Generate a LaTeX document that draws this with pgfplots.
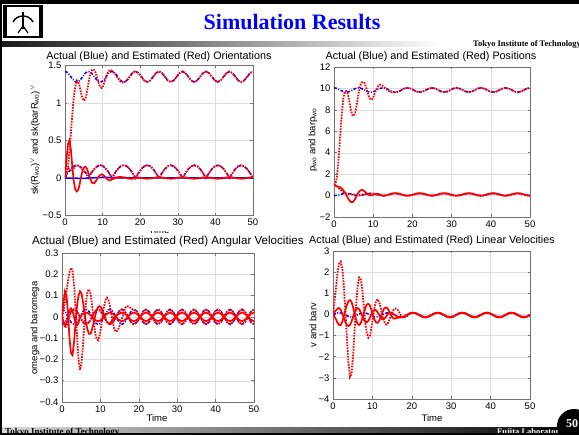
\documentclass[border=0pt]{standalone}
\usepackage{fontspec}
\setmainfont{Liberation Sans}
\newfontfamily\tserif{Liberation Serif}
\usepackage{pgfplots}
\usepackage{pgfplotstable}
\pgfplotsset{compat=1.18}

\pgfplotstableread{
t bu ru bl rl rs
0.00 1.42 0.00 0 0.00 0.00
0.39 1.415 0.05 0.033 0.08 0.25
0.78 1.40 0.15 0.065 0.14 0.45
1.17 1.377 0.35 0.095 0.12 0.50
1.56 1.35 0.60 0.12 0.09 0.38
1.95 1.323 0.85 0.141 0.10 0.15
2.34 1.30 1.08 0.157 0.13 -0.05
2.73 1.285 1.22 0.167 0.16 -0.15
3.13 1.28 1.30 0.17 0.17 -0.18
3.52 1.285 1.28 0.167 0.165 -0.16
3.91 1.30 1.22 0.157 0.15 -0.08
4.30 1.323 1.13 0.141 0.13 0.02
4.69 1.35 1.06 0.12 0.11 0.10
5.08 1.377 1.03 0.095 0.09 0.14
5.47 1.40 1.06 0.065 0.07 0.15
5.86 1.415 1.15 0.033 0.05 0.12
6.25 1.42 1.27 0 0.04 0.06
6.64 1.415 1.37 0.033 0.05 0.00
7.03 1.40 1.43 0.065 0.07 -0.05
7.42 1.377 1.45 0.095 0.10 -0.07
7.81 1.35 1.44 0.12 0.12 -0.07
8.20 1.323 1.40 0.141 0.14 -0.04
8.59 1.30 1.33 0.157 0.155 -0.01
8.98 1.285 1.26 0.167 0.165 0.02
9.38 1.28 1.21 0.17 0.17 0.04
9.77 1.285 1.20 0.167 0.167 0.05
10.16 1.30 1.23 0.157 0.157 0.04
10.55 1.323 1.29 0.141 0.141 0.02
10.94 1.35 1.35 0.12 0.12 0.00
11.33 1.377 1.40 0.095 0.095 -0.02
11.72 1.40 1.43 0.065 0.065 -0.03
12.11 1.415 1.44 0.033 0.033 -0.03
12.50 1.42 1.43 0 0 -0.02
12.89 1.415 1.41 0.033 0.033 -0.01
13.28 1.40 1.39 0.065 0.065 0.00
13.67 1.377 1.36 0.095 0.095 0.01
14.06 1.35 1.33 0.12 0.12 0.01
14.45 1.323 1.30 0.141 0.141 0.015
14.84 1.30 1.285 0.157 0.157 0.015
15.23 1.285 1.275 0.167 0.167 0.01
15.63 1.28 1.275 0.17 0.17 0.01
16.02 1.285 1.285 0.167 0.167 0.005
16.41 1.30 1.30 0.157 0.157 0.00
16.80 1.323 1.323 0.141 0.141 -0.005
17.19 1.35 1.35 0.12 0.12 -0.01
17.58 1.377 1.377 0.095 0.095 -0.01
17.97 1.40 1.40 0.065 0.065 -0.01
18.36 1.415 1.415 0.033 0.033 -0.005
18.75 1.42 1.42 0 0 0.00
19.53 1.40 1.40 0.065 0.065 0.007
20.31 1.35 1.35 0.12 0.12 0.00
21.09 1.30 1.30 0.157 0.157 -0.007
21.88 1.28 1.28 0.17 0.17 -0.01
22.66 1.30 1.30 0.157 0.157 -0.007
23.44 1.35 1.35 0.12 0.12 0.00
24.22 1.40 1.40 0.065 0.065 0.007
25.00 1.42 1.42 0 0 0.01
25.78 1.40 1.40 0.065 0.065 0.007
26.56 1.35 1.35 0.12 0.12 0.00
27.34 1.30 1.30 0.157 0.157 -0.007
28.13 1.28 1.28 0.17 0.17 -0.01
28.91 1.30 1.30 0.157 0.157 -0.007
29.69 1.35 1.35 0.12 0.12 0.00
30.47 1.40 1.40 0.065 0.065 0.007
31.25 1.42 1.42 0 0 0.01
32.03 1.40 1.40 0.065 0.065 0.007
32.81 1.35 1.35 0.12 0.12 0.00
33.59 1.30 1.30 0.157 0.157 -0.007
34.38 1.28 1.28 0.17 0.17 -0.01
35.16 1.30 1.30 0.157 0.157 -0.007
35.94 1.35 1.35 0.12 0.12 0.00
36.72 1.40 1.40 0.065 0.065 0.007
37.50 1.42 1.42 0 0 0.01
38.28 1.40 1.40 0.065 0.065 0.007
39.06 1.35 1.35 0.12 0.12 0.00
39.84 1.30 1.30 0.157 0.157 -0.007
40.63 1.28 1.28 0.17 0.17 -0.01
41.41 1.30 1.30 0.157 0.157 -0.007
42.19 1.35 1.35 0.12 0.12 0.00
42.97 1.40 1.40 0.065 0.065 0.007
43.75 1.42 1.42 0 0 0.01
44.53 1.40 1.40 0.065 0.065 0.007
45.31 1.35 1.35 0.12 0.12 0.00
46.09 1.30 1.30 0.157 0.157 -0.007
46.88 1.28 1.28 0.17 0.17 -0.01
47.66 1.30 1.30 0.157 0.157 -0.007
48.44 1.35 1.35 0.12 0.12 0.00
49.22 1.40 1.40 0.065 0.065 0.007
50.00 1.42 1.42 0 0 0.01
}\tabA

\pgfplotstableread{
t bu ru bl rl rs
0.00 10.05 1.0 0 1.0 1.0
0.39 10.035 1.1 0.008 0.95 0.92
0.78 9.99 1.8 0.029 0.85 0.86
1.17 9.927 3.5 0.062 0.72 0.82
1.56 9.85 5.5 0.1 0.58 0.77
1.95 9.773 7.5 0.138 0.45 0.68
2.34 9.71 9.0 0.171 0.33 0.52
2.73 9.665 9.7 0.192 0.24 0.30
3.13 9.65 9.75 0.2 0.18 0.05
3.52 9.665 9.5 0.192 0.15 -0.2
3.91 9.71 8.8 0.171 0.14 -0.45
4.30 9.773 8.0 0.138 0.13 -0.6
4.69 9.85 7.5 0.1 0.12 -0.62
5.08 9.927 7.45 0.062 0.10 -0.5
5.47 9.99 7.8 0.029 0.08 -0.25
5.86 10.035 8.6 0.008 0.06 0.05
6.25 10.05 9.5 0 0.05 0.3
6.64 10.035 10.2 0.008 0.06 0.45
7.03 9.99 10.55 0.029 0.08 0.52
7.42 9.927 10.6 0.062 0.10 0.5
7.81 9.85 10.5 0.1 0.12 0.4
8.20 9.773 10.1 0.138 0.14 0.25
8.59 9.71 9.6 0.171 0.17 0.12
8.98 9.665 9.15 0.192 0.19 0.04
9.38 9.65 8.95 0.2 0.2 0.02
9.77 9.665 9.0 0.192 0.192 0.05
10.16 9.71 9.3 0.171 0.171 0.1
10.55 9.773 9.7 0.138 0.138 0.15
10.94 9.85 10.05 0.1 0.1 0.17
11.33 9.927 10.25 0.062 0.062 0.15
11.72 9.99 10.35 0.029 0.029 0.1
12.11 10.035 10.3 0.008 0.008 0.04
12.50 10.05 10.2 0 0 -0.01
12.89 10.035 10.08 0.008 0.008 -0.02
13.28 9.99 9.96 0.029 0.029 0.01
13.67 9.927 9.85 0.062 0.062 0.05
14.06 9.85 9.74 0.1 0.1 0.1
14.45 9.773 9.66 0.138 0.138 0.146
14.84 9.71 9.62 0.171 0.171 0.185
15.23 9.665 9.62 0.192 0.192 0.211
15.63 9.65 9.63 0.2 0.2 0.22
16.02 9.665 9.665 0.192 0.192 0.211
16.41 9.71 9.71 0.171 0.171 0.185
16.80 9.773 9.773 0.138 0.138 0.146
17.19 9.85 9.85 0.1 0.1 0.1
17.58 9.927 9.927 0.062 0.062 0.054
17.97 9.99 9.99 0.029 0.029 0.015
18.36 10.035 10.035 0.008 0.008 -0.011
18.75 10.05 10.05 0 0 -0.02
19.53 9.99 9.99 0.029 0.029 0.015
20.31 9.85 9.85 0.1 0.1 0.1
21.09 9.71 9.71 0.171 0.171 0.185
21.88 9.65 9.65 0.2 0.2 0.22
22.66 9.71 9.71 0.171 0.171 0.185
23.44 9.85 9.85 0.1 0.1 0.1
24.22 9.99 9.99 0.029 0.029 0.015
25.00 10.05 10.05 0 0 -0.02
25.78 9.99 9.99 0.029 0.029 0.015
26.56 9.85 9.85 0.1 0.1 0.1
27.34 9.71 9.71 0.171 0.171 0.185
28.13 9.65 9.65 0.2 0.2 0.22
28.91 9.71 9.71 0.171 0.171 0.185
29.69 9.85 9.85 0.1 0.1 0.1
30.47 9.99 9.99 0.029 0.029 0.015
31.25 10.05 10.05 0 0 -0.02
32.03 9.99 9.99 0.029 0.029 0.015
32.81 9.85 9.85 0.1 0.1 0.1
33.59 9.71 9.71 0.171 0.171 0.185
34.38 9.65 9.65 0.2 0.2 0.22
35.16 9.71 9.71 0.171 0.171 0.185
35.94 9.85 9.85 0.1 0.1 0.1
36.72 9.99 9.99 0.029 0.029 0.015
37.50 10.05 10.05 0 0 -0.02
38.28 9.99 9.99 0.029 0.029 0.015
39.06 9.85 9.85 0.1 0.1 0.1
39.84 9.71 9.71 0.171 0.171 0.185
40.63 9.65 9.65 0.2 0.2 0.22
41.41 9.71 9.71 0.171 0.171 0.185
42.19 9.85 9.85 0.1 0.1 0.1
42.97 9.99 9.99 0.029 0.029 0.015
43.75 10.05 10.05 0 0 -0.02
44.53 9.99 9.99 0.029 0.029 0.015
45.31 9.85 9.85 0.1 0.1 0.1
46.09 9.71 9.71 0.171 0.171 0.185
46.88 9.65 9.65 0.2 0.2 0.22
47.66 9.71 9.71 0.171 0.171 0.185
48.44 9.85 9.85 0.1 0.1 0.1
49.22 9.99 9.99 0.029 0.029 0.015
50.00 10.05 10.05 0 0 -0.02
}\tabB

\pgfplotstableread{
t b1 b2 rd1 rd2 rs1 rs2
0.00 0.035 -0.035 0 0 0 0
0.39 0.032 -0.032 0.03 -0.03 0.07 -0.02
0.78 0.025 -0.025 0.07 -0.05 0.12 -0.04
1.17 0.013 -0.013 0.12 -0.045 0.10 -0.03
1.56 0 0 0.17 -0.02 0.02 0
1.95 -0.013 0.013 0.21 0 -0.10 0.03
2.34 -0.025 0.025 0.23 0.02 -0.17 0.04
2.73 -0.032 0.032 0.22 0.03 -0.18 0.03
3.13 -0.035 0.035 0.15 0.035 -0.12 0
3.52 -0.032 0.032 0.04 0.032 -0.03 -0.03
3.91 -0.025 0.025 -0.09 0.025 0.05 -0.04
4.30 -0.013 0.013 -0.20 0.013 0.10 -0.03
4.69 0 0 -0.25 0 0.12 0
5.08 0.013 -0.013 -0.22 -0.013 0.11 0.008
5.47 0.025 -0.025 -0.13 -0.025 0.07 0.014
5.86 0.032 -0.032 -0.02 -0.032 0.02 0.018
6.25 0.035 -0.035 0.07 -0.035 -0.03 0.02
6.64 0.032 -0.032 0.12 -0.032 -0.06 0.018
7.03 0.025 -0.025 0.13 -0.025 -0.08 0.014
7.42 0.013 -0.013 0.11 -0.013 -0.08 0.008
7.81 0 0 0.06 0 -0.06 0
8.20 -0.013 0.013 -0.01 0.013 -0.03 -0.008
8.59 -0.025 0.025 -0.07 0.025 0 -0.014
8.98 -0.032 0.032 -0.10 0.032 0.03 -0.018
9.38 -0.035 0.035 -0.11 0.035 0.045 -0.02
9.77 -0.032 0.032 -0.09 0.032 0.05 -0.018
10.16 -0.025 0.025 -0.05 0.025 0.045 -0.014
10.55 -0.013 0.013 0 0.013 0.03 -0.008
10.94 0 0 0.05 0 0.01 0
11.33 0.013 -0.013 0.08 -0.013 -0.01 0.008
11.72 0.025 -0.025 0.09 -0.025 -0.025 0.014
12.11 0.032 -0.032 0.08 -0.032 -0.03 0.018
12.50 0.035 -0.035 0.05 -0.035 -0.03 0.02
12.89 0.032 -0.032 0.01 -0.032 -0.02 0.018
13.28 0.025 -0.025 -0.03 -0.025 -0.01 0.014
13.67 0.013 -0.013 -0.06 -0.013 0 0.008
14.06 0 0 -0.07 0 0.005 0
14.45 -0.013 0.013 -0.065 0.013 0.01 -0.008
14.84 -0.025 0.025 -0.05 0.025 0.014 -0.014
15.23 -0.032 0.032 -0.03 0.032 0.018 -0.018
15.63 -0.035 0.035 -0.01 0.035 0.02 -0.02
16.02 -0.032 0.032 0.02 0.032 0.018 -0.018
16.41 -0.025 0.025 0.04 0.025 0.014 -0.014
16.80 -0.013 0.013 0.05 0.013 0.008 -0.008
17.19 0 0 0.05 0 0 0
17.58 0.013 -0.013 0.045 -0.013 -0.008 0.008
17.97 0.025 -0.025 0.04 -0.025 -0.014 0.014
18.36 0.032 -0.032 0.036 -0.032 -0.018 0.018
18.75 0.035 -0.035 0.035 -0.035 -0.02 0.02
19.53 0.025 -0.025 0.025 -0.025 -0.014 0.014
20.31 0 0 0 0 0 0
21.09 -0.025 0.025 -0.025 0.025 0.014 -0.014
21.88 -0.035 0.035 -0.035 0.035 0.02 -0.02
22.66 -0.025 0.025 -0.025 0.025 0.014 -0.014
23.44 0 0 0 0 0 0
24.22 0.025 -0.025 0.025 -0.025 -0.014 0.014
25.00 0.035 -0.035 0.035 -0.035 -0.02 0.02
25.78 0.025 -0.025 0.025 -0.025 -0.014 0.014
26.56 0 0 0 0 0 0
27.34 -0.025 0.025 -0.025 0.025 0.014 -0.014
28.13 -0.035 0.035 -0.035 0.035 0.02 -0.02
28.91 -0.025 0.025 -0.025 0.025 0.014 -0.014
29.69 0 0 0 0 0 0
30.47 0.025 -0.025 0.025 -0.025 -0.014 0.014
31.25 0.035 -0.035 0.035 -0.035 -0.02 0.02
32.03 0.025 -0.025 0.025 -0.025 -0.014 0.014
32.81 0 0 0 0 0 0
33.59 -0.025 0.025 -0.025 0.025 0.014 -0.014
34.38 -0.035 0.035 -0.035 0.035 0.02 -0.02
35.16 -0.025 0.025 -0.025 0.025 0.014 -0.014
35.94 0 0 0 0 0 0
36.72 0.025 -0.025 0.025 -0.025 -0.014 0.014
37.50 0.035 -0.035 0.035 -0.035 -0.02 0.02
38.28 0.025 -0.025 0.025 -0.025 -0.014 0.014
39.06 0 0 0 0 0 0
39.84 -0.025 0.025 -0.025 0.025 0.014 -0.014
40.63 -0.035 0.035 -0.035 0.035 0.02 -0.02
41.41 -0.025 0.025 -0.025 0.025 0.014 -0.014
42.19 0 0 0 0 0 0
42.97 0.025 -0.025 0.025 -0.025 -0.014 0.014
43.75 0.035 -0.035 0.035 -0.035 -0.02 0.02
44.53 0.025 -0.025 0.025 -0.025 -0.014 0.014
45.31 0 0 0 0 0 0
46.09 -0.025 0.025 -0.025 0.025 0.014 -0.014
46.88 -0.035 0.035 -0.035 0.035 0.02 -0.02
47.66 -0.025 0.025 -0.025 0.025 0.014 -0.014
48.44 0 0 0 0 0 0
49.22 0.025 -0.025 0.025 -0.025 -0.014 0.014
50.00 0.035 -0.035 0.035 -0.035 -0.02 0.02
}\tabC

\pgfplotstableread{
t b rd rs1 rs2
0.00 -0.02 0.0 0.0 0.0
0.39 0.018 0.6 -0.1 0.1
0.78 0.051 1.3 -0.25 0.2
1.17 0.072 2.0 -0.4 0.28
1.56 0.08 2.4 -0.5 0.3
1.95 0.072 2.5 -0.5 0.22
2.34 0.051 2.2 -0.35 0.05
2.73 0.018 1.4 -0.1 -0.15
3.13 -0.02 0.2 0.2 -0.35
3.52 -0.058 -1.1 0.45 -0.5
3.91 -0.091 -2.3 0.62 -0.55
4.30 -0.112 -2.95 0.68 -0.5
4.69 -0.12 -2.8 0.6 -0.35
5.08 -0.112 -2.0 0.35 -0.12
5.47 -0.091 -0.8 0.05 0.1
5.86 -0.058 0.4 -0.25 0.25
6.25 -0.02 1.3 -0.45 0.3
6.64 0.018 1.75 -0.5 0.25
7.03 0.051 1.7 -0.42 0.1
7.42 0.072 1.2 -0.2 -0.08
7.81 0.08 0.4 0.05 -0.25
8.20 0.072 -0.4 0.3 -0.35
8.59 0.051 -0.9 0.47 -0.37
8.98 0.018 -1.1 0.5 -0.3
9.38 -0.02 -1.0 0.42 -0.15
9.77 -0.058 -0.6 0.2 0.02
10.16 -0.091 -0.1 -0.05 0.15
10.55 -0.112 0.35 -0.25 0.22
10.94 -0.12 0.65 -0.38 0.2
11.33 -0.112 0.72 -0.4 0.1
11.72 -0.091 0.6 -0.3 -0.03
12.11 -0.058 0.3 -0.12 -0.15
12.50 -0.02 -0.05 0.08 -0.22
12.89 0.018 -0.3 0.25 -0.22
13.28 0.051 -0.45 0.33 -0.15
13.67 0.072 -0.48 0.32 -0.05
14.06 0.08 -0.38 0.22 0.05
14.45 0.072 -0.2 0.06 0.08
14.84 0.051 0.0 -0.08 0.07
15.23 0.018 0.18 -0.17 0.03
15.63 -0.02 0.27 -0.2 -0.02
16.02 -0.058 0.28 -0.18 -0.07
16.41 -0.091 0.22 -0.16 -0.108
16.80 -0.112 0.1 -0.15 -0.132
17.19 -0.12 -0.03 -0.14 -0.14
17.58 -0.112 -0.12 -0.13 -0.132
17.97 -0.091 -0.15 -0.11 -0.108
18.36 -0.058 -0.13 -0.07 -0.072
18.75 -0.02 -0.08 -0.03 -0.03
19.53 0.051 0.051 0.048 0.048
20.31 0.08 0.08 0.08 0.08
21.09 0.051 0.051 0.048 0.048
21.88 -0.02 -0.02 -0.03 -0.03
22.66 -0.091 -0.091 -0.108 -0.108
23.44 -0.12 -0.12 -0.14 -0.14
24.22 -0.091 -0.091 -0.108 -0.108
25.00 -0.02 -0.02 -0.03 -0.03
25.78 0.051 0.051 0.048 0.048
26.56 0.08 0.08 0.08 0.08
27.34 0.051 0.051 0.048 0.048
28.13 -0.02 -0.02 -0.03 -0.03
28.91 -0.091 -0.091 -0.108 -0.108
29.69 -0.12 -0.12 -0.14 -0.14
30.47 -0.091 -0.091 -0.108 -0.108
31.25 -0.02 -0.02 -0.03 -0.03
32.03 0.051 0.051 0.048 0.048
32.81 0.08 0.08 0.08 0.08
33.59 0.051 0.051 0.048 0.048
34.38 -0.02 -0.02 -0.03 -0.03
35.16 -0.091 -0.091 -0.108 -0.108
35.94 -0.12 -0.12 -0.14 -0.14
36.72 -0.091 -0.091 -0.108 -0.108
37.50 -0.02 -0.02 -0.03 -0.03
38.28 0.051 0.051 0.048 0.048
39.06 0.08 0.08 0.08 0.08
39.84 0.051 0.051 0.048 0.048
40.63 -0.02 -0.02 -0.03 -0.03
41.41 -0.091 -0.091 -0.108 -0.108
42.19 -0.12 -0.12 -0.14 -0.14
42.97 -0.091 -0.091 -0.108 -0.108
43.75 -0.02 -0.02 -0.03 -0.03
44.53 0.051 0.051 0.048 0.048
45.31 0.08 0.08 0.08 0.08
46.09 0.051 0.051 0.048 0.048
46.88 -0.02 -0.02 -0.03 -0.03
47.66 -0.091 -0.091 -0.108 -0.108
48.44 -0.12 -0.12 -0.14 -0.14
49.22 -0.091 -0.091 -0.108 -0.108
50.00 -0.02 -0.02 -0.03 -0.03
}\tabD

\pgfplotsset{
  slide/.style={
    scale only axis, anchor=south west,
    xmin=0, xmax=50, xtick={0,10,20,30,40,50},
    xticklabels={0,10,20,30,40,50},
    axis line style={black!55, line width=0.5pt},
    grid=major, major grid style={black!13, line width=0.4pt},
    tick align=inside, major tick length=2.5pt,
    tick style={black!55, line width=0.5pt},
    ticklabel style={font=\fontsize{9.5}{10}\selectfont, text=black},
    /pgf/number format/assume math mode=true,
    clip=true,
  },
  bdd/.style={blue, line width=1.5pt, dash pattern=on 3pt off 1.5pt on 1pt off 1.5pt},
  bsol/.style={blue, line width=1.5pt},
  rdot/.style={red, line width=1.8pt, dash pattern=on 1.6pt off 1.2pt},
  rsol/.style={red, line width=1.7pt},
}

\begin{document}
\begin{tikzpicture}[x=1pt,y=1pt]
\useasboundingbox (0pt,0pt) rectangle (579pt,435pt);
\fill[white] (0pt,0pt) rectangle (579pt,435pt);

% ---- slide decoration ----
\fill[black] (0pt,431pt) rectangle (579pt,435pt);
\fill[black] (0pt,0pt) rectangle (2pt,435pt);
\shade[left color=black!90, right color=white] (2pt,388pt) rectangle (440pt,393pt);
\fill[black] (3pt,397pt) rectangle (43pt,430pt);
\fill[white] (7pt,399pt) rectangle (39pt,428pt);
\draw[line width=1.6pt] (23pt,423pt) -- (23pt,406pt);
\draw[line width=1.4pt] (13pt,413pt) .. controls (17pt,421pt) and (29pt,421pt) .. (33pt,413pt);
\draw[line width=1.2pt] (23pt,409pt) -- (18pt,402pt);
\draw[line width=1.2pt] (23pt,409pt) -- (28pt,402pt);
\node[font=\tserif\bfseries\fontsize{22}{24}\selectfont, text=blue] at (292pt,413pt) {Simulation Results};
\node[font=\tserif\bfseries\fontsize{8.5}{9}\selectfont, anchor=base west, inner sep=0pt] at (473pt,388.5pt) {Tokyo Institute of Technology};

\shade[left color=white!85!black, right color=black] (2pt,1.5pt) rectangle (579pt,7pt);
\node[font=\tserif\bfseries\fontsize{9}{10}\selectfont, anchor=base west, inner sep=0pt] at (5pt,0.5pt) {Tokyo Institute of Technology};
\node[font=\tserif\bfseries\fontsize{8.5}{9}\selectfont, anchor=base west, inner sep=0pt, text=white] at (497pt,0.5pt) {Fujita Laboratory};
\fill[black] (0pt,0pt) rectangle (579pt,1.5pt);
\fill[black] (574pt,9pt) circle (17pt);
\node[font=\tserif\bfseries\fontsize{12}{13}\selectfont, text=white] at (572pt,11pt) {50};

% ---- plot 1 ----
\begin{axis}[slide, at={(65pt,219.5pt)}, width=188pt, height=150pt,
  ymin=-0.5, ymax=1.5, ytick={-0.5,0,0.5,1,1.5},
  yticklabels={−0.5,0,0.5,1,1.5}]
\addplot[bdd] table[x=t,y=bu]{\tabA};
\addplot[bdd] table[x=t,y=bl]{\tabA};
\addplot[bsol] coordinates {(0,0) (5,-0.005) (10,0.01) (15,0.0) (50,0.0)};
\addplot[rdot] table[x=t,y=ru]{\tabA};
\addplot[rdot] table[x=t,y=rl]{\tabA};
\addplot[rsol] table[x=t,y=rs]{\tabA};
\end{axis}

% ---- plot 2 ----
\begin{axis}[slide, at={(334pt,218pt)}, width=196pt, height=150pt,
  ymin=-2, ymax=12, ytick={-2,0,2,4,6,8,10,12},
  yticklabels={−2,0,2,4,6,8,10,12}]
\addplot[bdd] table[x=t,y=bu]{\tabB};
\addplot[bdd] table[x=t,y=bl]{\tabB};
\addplot[rdot] table[x=t,y=ru]{\tabB};
\addplot[rdot] table[x=t,y=rl]{\tabB};
\addplot[rsol] table[x=t,y=rs]{\tabB};
\end{axis}

% ---- plot 3 ----
\begin{axis}[slide, at={(62pt,33pt)}, width=192pt, height=149pt,
  ymin=-0.4, ymax=0.3, ytick={-0.4,-0.3,-0.2,-0.1,0,0.1,0.2,0.3},
  yticklabels={−0.4,−0.3,−0.2,−0.1,0,0.1,0.2,0.3}]
\addplot[bdd] table[x=t,y=b1]{\tabC};
\addplot[bdd] table[x=t,y=b2]{\tabC};
\addplot[rdot] table[x=t,y=rd1]{\tabC};
\addplot[rdot] table[x=t,y=rd2]{\tabC};
\addplot[rsol] table[x=t,y=rs1]{\tabC};
\addplot[rsol] table[x=t,y=rs2]{\tabC};
\end{axis}

% ---- plot 4 ----
\begin{axis}[slide, at={(333pt,36pt)}, width=197pt, height=148pt,
  ymin=-4, ymax=3, ytick={-4,-3,-2,-1,0,1,2,3},
  yticklabels={−4,−3,−2,−1,0,1,2,3}]
\addplot[bdd] table[x=t,y=b]{\tabD};
\addplot[rdot] table[x=t,y=rd]{\tabD};
\addplot[rsol] table[x=t,y=rs1]{\tabD};
\addplot[rsol] table[x=t,y=rs2]{\tabD};
\end{axis}

% ---- titles and labels ----
\begin{scope}
\clip (0pt,0pt) rectangle (579pt,203pt);
\node[font=\fontsize{9.5}{10}\selectfont] at (159pt,205pt) {Time};
\end{scope}
\node[font=\fontsize{10.8}{12}\selectfont] at (159pt,378pt) {Actual (Blue) and Estimated (Red) Orientations};
\node[font=\fontsize{10.8}{12}\selectfont] at (431pt,378pt) {Actual (Blue) and Estimated (Red) Positions};
\begin{scope}
\clip (0pt,0pt) rectangle (303pt,435pt);
\node[font=\fontsize{11.6}{13}\selectfont, anchor=west, inner sep=0pt] at (32pt,193pt) {Actual (Blue) and Estimated (Red) Angular Velocities};
\end{scope}
\node[font=\fontsize{10.8}{12}\selectfont] at (432pt,194pt) {Actual (Blue) and Estimated (Red) Linear Velocities};

\node[font=\fontsize{9.5}{10}\selectfont, rotate=90] at (35pt,295pt) {sk(R\textsubscript{wo})\textsuperscript{$\vee$} and sk(barR\textsubscript{wo})\textsuperscript{$\vee$}};
\node[font=\fontsize{9.5}{10}\selectfont, rotate=90] at (313pt,295pt) {p\textsubscript{wo} and barp\textsubscript{wo}};
\node[font=\fontsize{9.5}{10}\selectfont, rotate=90] at (35pt,107pt) {omega and baromega};
\node[font=\fontsize{9.5}{10}\selectfont, rotate=90] at (313pt,110pt) {v and barv};
\node[font=\fontsize{9.5}{10}\selectfont] at (157pt,17pt) {Time};
\node[font=\fontsize{9.5}{10}\selectfont] at (432pt,17pt) {Time};
\end{tikzpicture}
\end{document}
